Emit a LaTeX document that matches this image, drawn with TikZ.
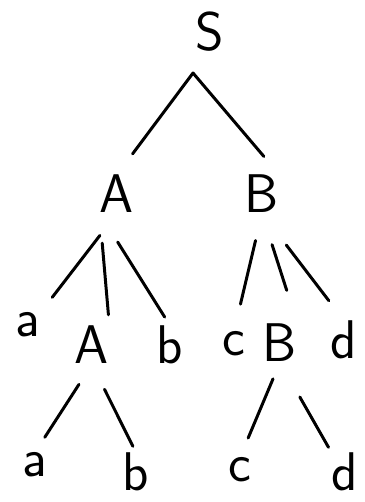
\documentclass[tikz,border=0pt]{standalone}
\usepackage{tikz}
\begin{document}
\begin{tikzpicture}[
  x=0.02cm, y=-0.02cm,
  sym/.style={inner sep=0pt, font=\sffamily\fontsize{31}{33}\selectfont},
  branch/.style={line width=1.7pt, line cap=round, line join=round},
]
\useasboundingbox (0,0) rectangle (364,502);

% --- Root and first level ---
\node[sym] (S) at (210,32) {S};
\node[sym] (A) at (117,194) {A};
\node[sym] (B) at (262,194) {B};
\coordinate (top) at (193,73);

% --- Second level ---
\node[sym] (a1) at (28,325) {a};
\node[sym] (A2) at (92,345) {A};
\node[sym] (b1) at (170,345) {b};
\node[sym] (c1) at (234,344) {c};
\node[sym] (B2) at (280,343) {B};
\node[sym] (d1) at (344,340) {d};

% --- Leaves ---
\node[sym] (a2) at (35,465) {a};
\node[sym] (b2) at (136,472) {b};
\node[sym] (c2) at (240,470) {c};
\node[sym] (d2) at (345,472) {d};

% --- Branches ---
\draw[branch, shorten <=0.52cm, shorten >=0.48cm] (A.north) -- (top) -- (B.north east);

\draw[branch, shorten <=0.56cm, shorten >=0.38cm] (A.south) -- (a1.north east);
\draw[branch, shorten <=0.60cm, shorten >=0.22cm] (A.south west) -- (A2.north east);
\draw[branch, shorten <=0.68cm, shorten >=0.20cm] (A.south west) -- (b1.north);

\draw[branch, shorten <=0.56cm, shorten >=0.56cm] (B.south) -- (c1.north);
\draw[branch, shorten <=0.66cm, shorten >=0.70cm] (B.south) -- (B2.north east);
\draw[branch, shorten <=0.80cm, shorten >=0.50cm] (B.south) -- (d1.north);

\draw[branch, shorten <=0.48cm, shorten >=0.36cm] (A2.south) -- (a2.north);
\draw[branch, shorten <=0.56cm, shorten >=0.14cm] (A2.south) -- (b2.north);
\draw[branch, shorten <=0.36cm, shorten >=0.42cm] (B2.south) -- (c2.north);
\draw[branch, shorten <=0.80cm, shorten >=0.12cm] (B2.south) -- (d2.north west);

\end{tikzpicture}
\end{document}
